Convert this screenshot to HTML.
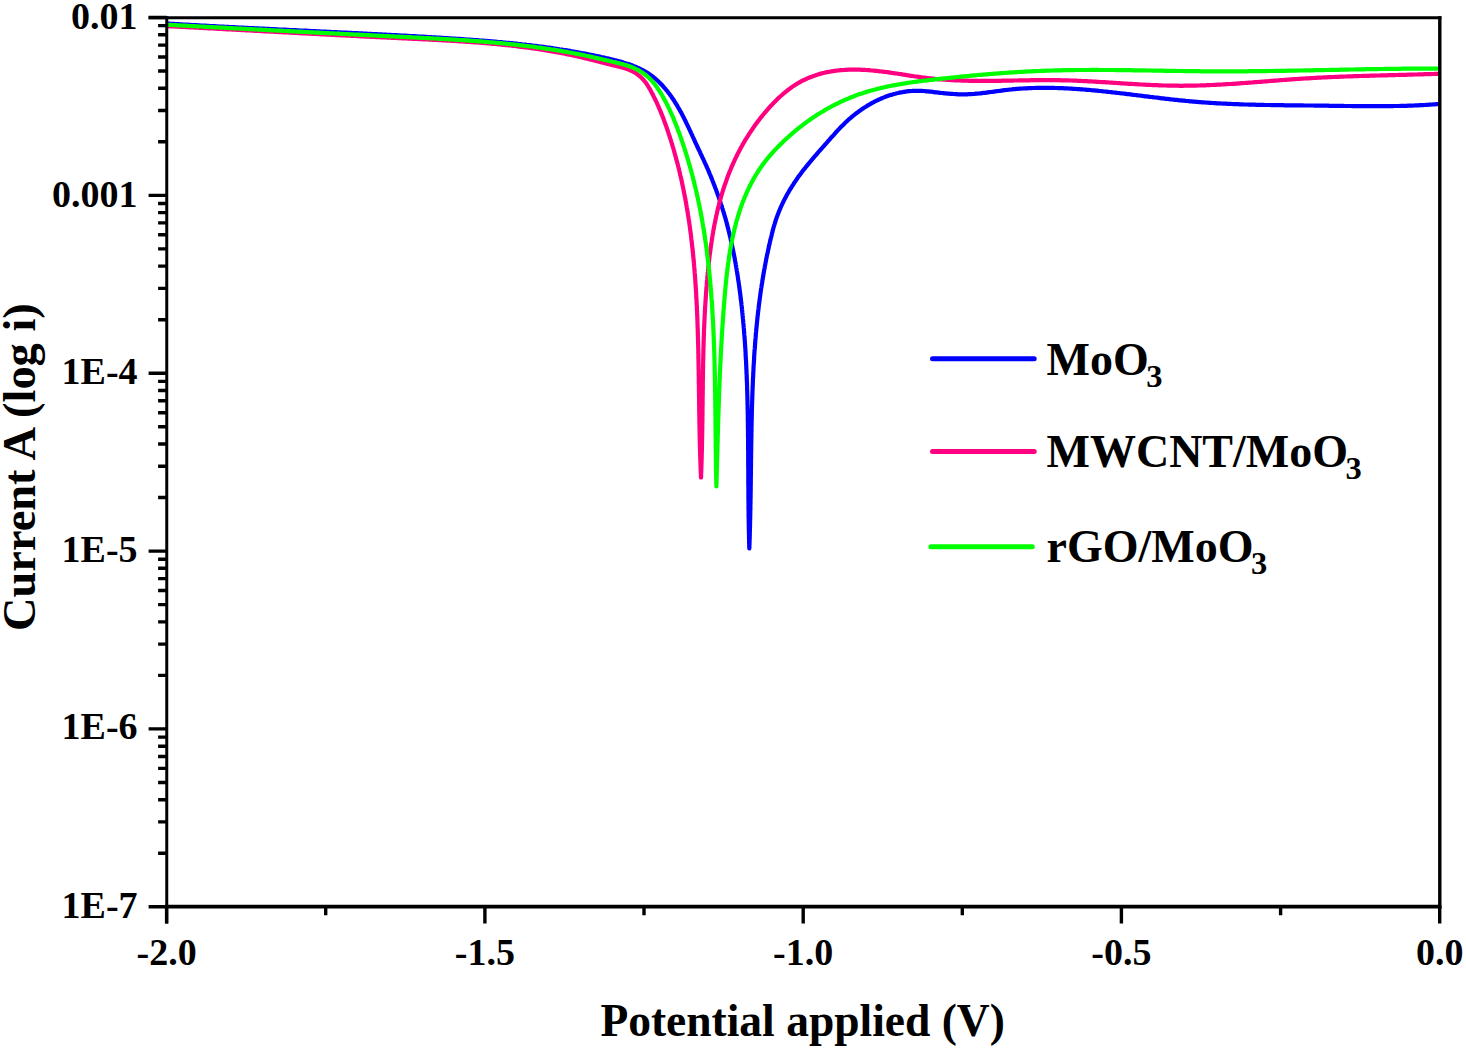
<!DOCTYPE html><html><head><meta charset="utf-8"><style>html,body{margin:0;padding:0;background:#fff;width:1466px;height:1049px;overflow:hidden}svg{display:block}text{font-family:"Liberation Serif",serif;font-weight:bold;fill:#000}</style></head><body>
<svg width="1466" height="1049" viewBox="0 0 1466 1049">
<defs><clipPath id="c"><rect x="166.6" y="15.5" width="1273.1000000000001" height="891.3"/></clipPath></defs>
<g fill="none" stroke-linejoin="round" stroke-linecap="round" clip-path="url(#c)">
<path d="M166.5,23.5L168.0,23.6L169.5,23.7L171.0,23.8L172.5,23.9L174.0,23.9L175.5,24.0L177.0,24.1L178.5,24.2L180.0,24.3L181.5,24.4L183.0,24.5L184.5,24.6L186.0,24.6L187.5,24.7L189.0,24.8L190.5,24.9L192.0,25.0L193.5,25.1L195.0,25.2L196.5,25.2L198.0,25.3L199.5,25.4L201.0,25.5L202.5,25.6L204.0,25.6L205.5,25.7L207.0,25.8L208.5,25.9L210.0,26.0L211.5,26.1L213.0,26.1L214.5,26.2L216.0,26.3L217.5,26.4L219.0,26.5L220.5,26.5L222.0,26.6L223.5,26.7L225.0,26.8L226.5,26.8L228.0,26.9L229.5,27.0L231.0,27.1L232.6,27.2L234.1,27.2L235.6,27.3L237.1,27.4L238.6,27.5L240.1,27.5L241.6,27.6L243.1,27.7L244.6,27.8L246.1,27.8L247.6,27.9L249.1,28.0L250.6,28.1L252.1,28.1L253.6,28.2L255.1,28.3L256.6,28.4L258.1,28.4L259.6,28.5L261.1,28.6L262.6,28.7L264.1,28.7L265.6,28.8L267.1,28.9L268.6,28.9L270.1,29.0L271.6,29.1L273.1,29.2L274.6,29.2L276.2,29.3L277.7,29.4L279.2,29.5L280.7,29.5L282.2,29.6L283.7,29.7L285.2,29.7L286.7,29.8L288.2,29.9L289.7,30.0L291.2,30.0L292.7,30.1L294.2,30.2L295.7,30.2L297.2,30.3L298.7,30.4L300.2,30.5L301.7,30.5L303.2,30.6L304.7,30.7L306.2,30.7L307.7,30.8L309.2,30.9L310.8,31.0L312.3,31.0L313.8,31.1L315.3,31.2L316.8,31.3L318.3,31.3L319.8,31.4L321.3,31.5L322.8,31.5L324.3,31.6L325.8,31.7L327.3,31.8L328.8,31.8L330.3,31.9L331.8,32.0L333.3,32.0L334.8,32.1L336.3,32.2L337.8,32.3L339.3,32.3L340.8,32.4L342.3,32.5L343.8,32.6L345.3,32.6L346.9,32.7L348.4,32.8L349.9,32.9L351.4,32.9L352.9,33.0L354.4,33.1L355.9,33.2L357.4,33.2L358.9,33.3L360.4,33.4L361.9,33.4L363.4,33.5L364.9,33.6L366.4,33.7L367.9,33.8L369.4,33.8L370.9,33.9L372.4,34.0L373.9,34.1L375.4,34.1L376.9,34.2L378.4,34.3L379.9,34.4L381.4,34.4L382.9,34.5L384.4,34.6L385.9,34.7L387.4,34.8L388.9,34.8L390.4,34.9L391.9,35.0L393.4,35.1L394.9,35.2L396.5,35.2L398.0,35.3L399.5,35.4L401.0,35.5L402.5,35.6L404.0,35.6L405.5,35.7L407.0,35.8L408.5,35.9L410.0,36.0L411.5,36.1L413.0,36.1L414.5,36.2L416.0,36.3L417.5,36.4L419.0,36.5L420.5,36.6L422.0,36.7L423.5,36.7L425.0,36.8L426.5,36.9L428.0,37.0L429.5,37.1L431.0,37.2L432.5,37.3L434.0,37.4L435.5,37.4L437.0,37.5L438.5,37.6L440.0,37.7L441.5,37.8L443.0,37.9L444.5,38.0L446.0,38.1L447.5,38.2L449.0,38.3L450.5,38.4L452.0,38.5L453.5,38.6L455.0,38.7L456.5,38.8L458.0,38.8L459.5,38.9L461.0,39.1L462.5,39.2L464.0,39.3L465.4,39.4L466.9,39.5L468.4,39.6L469.9,39.7L471.4,39.8L472.9,39.9L474.4,40.0L475.9,40.1L477.4,40.2L478.9,40.3L480.4,40.5L481.9,40.6L483.4,40.7L484.9,40.8L486.4,40.9L487.9,41.1L489.4,41.2L490.9,41.3L492.4,41.4L493.9,41.6L495.4,41.7L496.9,41.8L498.4,42.0L499.9,42.1L501.4,42.2L502.9,42.4L504.3,42.5L505.8,42.7L507.3,42.8L508.8,42.9L510.3,43.1L511.8,43.2L513.3,43.4L514.8,43.6L516.3,43.7L517.8,43.9L519.3,44.0L520.8,44.2L522.3,44.4L523.8,44.5L525.3,44.7L526.8,44.9L528.2,45.0L529.7,45.2L531.2,45.4L532.7,45.6L534.2,45.8L535.7,45.9L537.2,46.1L538.7,46.3L540.2,46.5L541.7,46.7L543.2,46.9L544.7,47.1L546.1,47.3L547.6,47.5L549.1,47.7L550.6,47.9L552.1,48.1L553.6,48.4L555.1,48.6L556.6,48.8L558.1,49.0L559.6,49.3L561.1,49.5L562.5,49.7L564.0,50.0L565.5,50.2L567.0,50.4L568.5,50.7L570.0,50.9L571.5,51.2L573.0,51.5L574.5,51.7L575.9,52.0L577.4,52.2L578.9,52.5L580.4,52.8L581.9,53.1L583.4,53.3L584.9,53.6L586.4,53.9L587.9,54.2L589.3,54.5L590.8,54.8L592.3,55.1L593.8,55.4L595.3,55.7L596.8,56.0L598.3,56.3L599.8,56.6L601.2,57.0L602.7,57.3L604.2,57.6L605.7,58.0L607.2,58.3L608.7,58.6L610.2,59.0L611.6,59.3L613.1,59.7L614.6,60.1L616.1,60.4L617.5,60.8L619.0,61.2L620.5,61.6L621.9,62.0L623.4,62.5L624.8,62.9L626.3,63.4L627.7,63.8L629.1,64.3L630.5,64.8L631.9,65.3L633.3,65.9L634.7,66.4L636.1,67.0L637.4,67.6L638.8,68.2L640.1,68.8L641.4,69.5L642.7,70.2L644.0,70.9L645.3,71.6L646.5,72.3L647.8,73.1L649.0,73.9L650.2,74.8L651.4,75.6L652.6,76.5L653.7,77.4L654.9,78.3L656.0,79.3L657.1,80.3L658.2,81.3L659.3,82.3L660.3,83.4L661.4,84.4L662.4,85.5L663.4,86.6L664.4,87.8L665.4,88.9L666.3,90.1L667.3,91.2L668.2,92.4L669.1,93.6L670.0,94.8L670.9,96.1L671.8,97.3L672.6,98.5L673.5,99.8L674.3,101.0L675.1,102.3L675.9,103.6L676.7,104.9L677.5,106.2L678.2,107.5L679.0,108.8L679.7,110.1L680.4,111.4L681.2,112.7L681.9,114.1L682.6,115.4L683.3,116.8L684.0,118.1L684.6,119.4L685.3,120.8L686.0,122.2L686.6,123.5L687.3,124.9L687.9,126.3L688.6,127.6L689.2,129.0L689.9,130.4L690.5,131.7L691.1,133.1L691.8,134.5L692.4,135.9L693.0,137.2L693.7,138.6L694.3,140.0L694.9,141.3L695.5,142.7L696.2,144.1L696.8,145.4L697.4,146.8L698.1,148.2L698.7,149.5L699.4,150.9L700.0,152.2L700.6,153.6L701.3,155.0L701.9,156.3L702.5,157.7L703.2,159.0L703.8,160.4L704.4,161.7L705.0,163.1L705.7,164.5L706.3,165.8L706.9,167.2L707.5,168.6L708.1,169.9L708.7,171.3L709.2,172.7L709.8,174.1L710.4,175.4L711.0,176.8L711.5,178.2L712.1,179.6L712.6,181.0L713.2,182.4L713.7,183.8L714.3,185.2L714.8,186.6L715.3,188.0L715.9,189.4L716.4,190.8L716.9,192.2L717.4,193.6L717.9,195.0L718.4,196.4L718.9,197.9L719.4,199.3L719.9,200.7L720.4,202.1L720.8,203.6L721.3,205.0L721.8,206.4L722.2,207.8L722.7,209.3L723.1,210.7L723.6,212.1L724.0,213.6L724.4,215.0L724.8,216.5L725.3,217.9L725.7,219.4L726.1,220.8L726.5,222.3L726.9,223.7L727.2,225.2L727.6,226.6L728.0,228.1L728.4,229.5L728.7,231.0L729.1,232.4L729.4,233.9L729.8,235.4L730.1,236.8L730.5,238.3L730.8,239.8L731.1,241.2L731.5,242.7L731.8,244.2L732.1,245.6L732.4,247.1L732.7,248.6L733.0,250.0L733.3,251.5L733.6,253.0L733.9,254.5L734.2,255.9L734.5,257.4L734.8,258.9L735.0,260.4L735.3,261.9L735.6,263.4L735.8,264.8L736.1,266.3L736.3,267.8L736.6,269.3L736.8,270.8L737.1,272.3L737.3,273.7L737.5,275.2L737.8,276.7L738.0,278.2L738.2,279.7L738.4,281.2L738.7,282.7L738.9,284.2L739.1,285.6L739.3,287.1L739.5,288.6L739.7,290.1L739.9,291.6L740.1,293.1L740.3,294.6L740.5,296.1L740.6,297.6L740.8,299.1L741.0,300.6L741.2,302.0L741.4,303.5L741.5,305.0L741.7,306.5L741.9,308.0L742.0,309.5L742.2,311.0L742.3,312.5L742.5,314.0L742.6,315.5L742.8,317.0L742.9,318.5L743.1,320.0L743.2,321.5L743.3,323.0L743.5,324.5L743.6,326.0L743.7,327.5L743.9,329.0L744.0,330.5L744.1,332.0L744.2,333.5L744.3,335.0L744.5,336.5L744.6,338.0L744.7,339.4L744.8,340.9L744.9,342.4L745.0,343.9L745.1,345.4L745.2,346.9L745.3,348.4L745.4,349.9L745.5,351.4L745.6,352.9L745.6,354.5L745.7,356.0L745.8,357.5L745.9,359.0L746.0,360.5L746.1,362.0L746.1,363.5L746.2,365.0L746.3,366.5L746.3,368.0L746.4,369.5L746.5,371.0L746.5,372.5L746.6,374.0L746.7,375.5L746.7,377.0L746.8,378.5L746.8,380.0L746.9,381.5L747.0,383.0L747.0,384.5L747.1,386.0L747.1,387.5L747.1,389.0L747.2,390.5L747.2,392.0L747.3,393.5L747.3,395.0L747.4,396.5L747.4,398.0L747.4,399.6L747.5,401.1L747.5,402.6L747.5,404.1L747.6,405.6L747.6,407.1L747.6,408.6L747.7,410.1L747.7,411.6L747.7,413.1L747.8,414.6L747.8,416.1L747.8,417.6L747.8,419.1L747.8,420.6L747.9,422.1L747.9,423.6L747.9,425.1L747.9,426.7L747.9,428.2L748.0,429.7L748.0,431.2L748.0,432.7L748.0,434.2L748.0,435.7L748.0,437.2L748.1,438.7L748.1,440.2L748.1,441.7L748.1,443.2L748.1,444.7L748.1,446.2L748.1,447.7L748.1,449.3L748.2,450.8L748.2,452.3L748.2,453.8L748.2,455.3L748.2,456.8L748.2,458.3L748.2,459.8L748.2,461.3L748.2,462.8L748.2,464.3L748.2,465.8L748.2,467.3L748.3,468.8L748.3,470.3L748.3,471.8L748.3,473.4L748.3,474.9L748.3,476.4L748.3,477.9L748.3,479.4L748.3,480.9L748.3,482.4L748.3,483.9L748.3,485.4L748.4,486.9L748.4,488.4L748.4,489.9L748.4,491.4L748.4,492.9L748.4,494.4L748.4,495.9L748.4,497.4L748.4,498.9L748.5,500.4L748.5,501.9L748.5,503.5L748.5,505.0L748.5,506.5L748.5,508.0L748.5,509.5L748.6,511.0L748.6,512.5L748.6,514.0L748.6,515.5L748.6,517.0L748.7,518.5L748.7,520.0L748.7,521.5L748.7,523.0L748.8,524.5L748.8,526.0L748.8,527.5L748.8,529.0L748.9,530.5L748.9,532.0L748.9,533.5L749.0,535.0L749.0,536.5L749.0,538.0L749.1,539.5L749.1,541.0L749.1,542.5L749.2,544.0L749.2,545.5L749.3,547.0L749.3,548.5L749.3,548.5L749.4,547.0L749.4,545.5L749.5,544.0L749.5,542.5L749.6,541.0L749.6,539.5L749.7,538.0L749.7,536.5L749.8,535.0L749.8,533.5L749.8,532.0L749.9,530.5L749.9,529.1L750.0,527.6L750.0,526.1L750.0,524.6L750.1,523.1L750.1,521.6L750.1,520.1L750.2,518.6L750.2,517.1L750.2,515.6L750.3,514.1L750.3,512.6L750.3,511.1L750.4,509.6L750.4,508.1L750.4,506.5L750.4,505.0L750.5,503.5L750.5,502.0L750.5,500.5L750.5,499.0L750.6,497.5L750.6,496.0L750.6,494.5L750.6,493.0L750.7,491.5L750.7,490.0L750.7,488.5L750.7,487.0L750.7,485.5L750.8,484.0L750.8,482.5L750.8,481.0L750.8,479.5L750.8,478.0L750.8,476.5L750.9,475.0L750.9,473.5L750.9,472.0L750.9,470.4L750.9,468.9L751.0,467.4L751.0,465.9L751.0,464.4L751.0,462.9L751.0,461.4L751.0,459.9L751.1,458.4L751.1,456.9L751.1,455.4L751.1,453.9L751.1,452.4L751.2,450.9L751.2,449.3L751.2,447.8L751.2,446.3L751.2,444.8L751.3,443.3L751.3,441.8L751.3,440.3L751.3,438.8L751.4,437.3L751.4,435.8L751.4,434.3L751.4,432.8L751.5,431.3L751.5,429.8L751.5,428.2L751.5,426.7L751.6,425.2L751.6,423.7L751.6,422.2L751.7,420.7L751.7,419.2L751.7,417.7L751.8,416.2L751.8,414.7L751.8,413.2L751.9,411.7L751.9,410.2L751.9,408.7L752.0,407.1L752.0,405.6L752.1,404.1L752.1,402.6L752.2,401.1L752.2,399.6L752.3,398.1L752.3,396.6L752.4,395.1L752.4,393.6L752.5,392.1L752.5,390.6L752.6,389.1L752.6,387.6L752.7,386.1L752.8,384.6L752.8,383.1L752.9,381.6L752.9,380.0L753.0,378.5L753.1,377.0L753.2,375.5L753.2,374.0L753.3,372.5L753.4,371.0L753.5,369.5L753.5,368.0L753.6,366.5L753.7,365.0L753.8,363.5L753.9,362.0L754.0,360.5L754.1,359.0L754.1,357.5L754.2,356.0L754.3,354.5L754.4,353.0L754.5,351.5L754.6,350.0L754.8,348.5L754.9,347.0L755.0,345.5L755.1,344.0L755.2,342.5L755.3,341.0L755.4,339.5L755.6,338.0L755.7,336.5L755.8,335.0L755.9,333.5L756.1,332.0L756.2,330.5L756.3,329.1L756.5,327.6L756.6,326.1L756.8,324.6L756.9,323.1L757.1,321.6L757.2,320.1L757.4,318.6L757.5,317.1L757.7,315.6L757.9,314.1L758.0,312.6L758.2,311.1L758.4,309.6L758.6,308.2L758.7,306.7L758.9,305.2L759.1,303.7L759.3,302.2L759.5,300.7L759.7,299.2L759.9,297.7L760.1,296.3L760.3,294.8L760.5,293.3L760.7,291.8L760.9,290.3L761.1,288.8L761.4,287.3L761.6,285.9L761.8,284.4L762.1,282.9L762.3,281.4L762.5,279.9L762.8,278.5L763.0,277.0L763.3,275.5L763.5,274.0L763.8,272.5L764.0,271.1L764.3,269.6L764.6,268.1L764.8,266.6L765.1,265.2L765.4,263.7L765.7,262.2L766.0,260.7L766.2,259.3L766.5,257.8L766.8,256.3L767.1,254.8L767.5,253.4L767.8,251.9L768.1,250.4L768.4,249.0L768.7,247.5L769.0,246.0L769.4,244.6L769.7,243.1L770.0,241.6L770.4,240.2L770.7,238.7L771.1,237.2L771.5,235.8L771.8,234.3L772.2,232.8L772.6,231.4L772.9,229.9L773.3,228.5L773.7,227.0L774.1,225.6L774.6,224.1L775.0,222.7L775.5,221.3L775.9,219.8L776.4,218.4L776.9,217.0L777.4,215.6L777.9,214.2L778.5,212.8L779.0,211.4L779.6,210.0L780.2,208.6L780.8,207.2L781.4,205.9L782.0,204.5L782.7,203.1L783.3,201.8L784.0,200.4L784.7,199.1L785.4,197.8L786.1,196.4L786.8,195.1L787.5,193.8L788.3,192.5L789.0,191.2L789.8,189.9L790.6,188.6L791.4,187.3L792.2,186.0L793.0,184.8L793.8,183.5L794.6,182.3L795.5,181.0L796.3,179.8L797.2,178.5L798.0,177.3L798.9,176.1L799.8,174.9L800.7,173.7L801.6,172.5L802.5,171.3L803.4,170.1L804.4,168.9L805.3,167.8L806.2,166.6L807.2,165.4L808.1,164.3L809.1,163.1L810.0,162.0L811.0,160.8L812.0,159.7L812.9,158.5L813.9,157.4L814.9,156.2L815.9,155.1L816.9,154.0L817.8,152.8L818.8,151.7L819.8,150.6L820.8,149.5L821.8,148.3L822.8,147.2L823.8,146.1L824.8,144.9L825.8,143.8L826.8,142.7L827.8,141.5L828.8,140.4L829.8,139.3L830.7,138.1L831.7,137.0L832.8,135.9L833.8,134.8L834.8,133.6L835.8,132.5L836.8,131.4L837.8,130.3L838.9,129.2L839.9,128.1L840.9,127.1L842.0,126.0L843.1,124.9L844.1,123.9L845.2,122.8L846.3,121.8L847.4,120.7L848.5,119.7L849.7,118.7L850.8,117.7L852.0,116.8L853.1,115.8L854.3,114.9L855.5,113.9L856.7,113.0L857.9,112.1L859.1,111.2L860.4,110.3L861.6,109.4L862.8,108.6L864.1,107.8L865.4,107.0L866.6,106.2L867.9,105.4L869.2,104.6L870.5,103.9L871.8,103.1L873.2,102.4L874.5,101.7L875.8,101.0L877.2,100.4L878.5,99.7L879.9,99.1L881.3,98.5L882.7,97.9L884.0,97.4L885.4,96.8L886.8,96.3L888.2,95.8L889.6,95.3L891.1,94.9L892.5,94.5L893.9,94.0L895.3,93.7L896.8,93.3L898.2,93.0L899.7,92.6L901.1,92.3L902.6,92.1L904.1,91.8L905.5,91.6L907.0,91.4L908.5,91.2L910.0,91.1L911.5,91.0L912.9,90.9L914.4,90.8L915.9,90.8L917.4,90.8L918.9,90.8L920.4,90.9L921.9,90.9L923.5,91.0L925.0,91.1L926.5,91.3L928.0,91.4L929.5,91.6L931.0,91.7L932.5,91.9L934.0,92.1L935.6,92.3L937.1,92.4L938.6,92.6L940.1,92.8L941.6,93.0L943.1,93.1L944.6,93.3L946.1,93.4L947.6,93.6L949.1,93.7L950.6,93.8L952.1,93.9L953.6,94.0L955.1,94.1L956.6,94.2L958.0,94.3L959.5,94.3L961.0,94.3L962.5,94.3L964.0,94.3L965.5,94.3L967.0,94.3L968.5,94.2L970.0,94.2L971.5,94.1L973.0,94.0L974.5,93.9L976.0,93.7L977.5,93.6L979.0,93.5L980.5,93.3L982.0,93.1L983.5,92.9L985.0,92.8L986.5,92.6L988.0,92.4L989.5,92.2L991.0,92.0L992.5,91.8L994.0,91.6L995.5,91.4L997.0,91.2L998.5,91.0L1000.0,90.8L1001.5,90.6L1003.0,90.4L1004.5,90.2L1006.0,90.0L1007.5,89.8L1009.0,89.7L1010.5,89.5L1012.0,89.4L1013.5,89.2L1015.0,89.1L1016.5,88.9L1018.0,88.8L1019.5,88.7L1021.0,88.6L1022.5,88.5L1024.0,88.4L1025.5,88.3L1027.0,88.3L1028.4,88.2L1029.9,88.1L1031.4,88.1L1032.9,88.0L1034.4,88.0L1035.9,87.9L1037.4,87.9L1038.9,87.9L1040.4,87.9L1041.9,87.8L1043.4,87.8L1044.9,87.8L1046.4,87.8L1047.9,87.8L1049.4,87.9L1050.9,87.9L1052.4,87.9L1053.9,87.9L1055.4,88.0L1056.9,88.0L1058.4,88.1L1059.9,88.1L1061.4,88.2L1062.9,88.2L1064.4,88.3L1065.9,88.4L1067.4,88.4L1068.9,88.5L1070.4,88.6L1071.9,88.7L1073.4,88.8L1074.9,88.9L1076.4,89.0L1077.9,89.1L1079.4,89.2L1080.9,89.3L1082.4,89.4L1083.9,89.5L1085.4,89.6L1086.9,89.8L1088.4,89.9L1089.9,90.0L1091.4,90.2L1092.8,90.3L1094.3,90.4L1095.8,90.6L1097.3,90.7L1098.8,90.9L1100.3,91.0L1101.8,91.2L1103.3,91.3L1104.8,91.5L1106.3,91.6L1107.8,91.8L1109.3,92.0L1110.8,92.1L1112.3,92.3L1113.8,92.5L1115.3,92.6L1116.8,92.8L1118.3,93.0L1119.8,93.2L1121.3,93.3L1122.8,93.5L1124.3,93.7L1125.8,93.9L1127.3,94.1L1128.8,94.2L1130.3,94.4L1131.8,94.6L1133.3,94.8L1134.8,95.0L1136.3,95.1L1137.7,95.3L1139.2,95.5L1140.7,95.7L1142.2,95.9L1143.7,96.1L1145.2,96.3L1146.7,96.4L1148.2,96.6L1149.7,96.8L1151.2,97.0L1152.7,97.2L1154.2,97.4L1155.7,97.5L1157.2,97.7L1158.7,97.9L1160.2,98.1L1161.7,98.3L1163.2,98.4L1164.7,98.6L1166.2,98.8L1167.7,98.9L1169.2,99.1L1170.7,99.3L1172.2,99.5L1173.7,99.6L1175.2,99.8L1176.7,99.9L1178.2,100.1L1179.7,100.3L1181.2,100.4L1182.7,100.6L1184.2,100.7L1185.7,100.9L1187.2,101.0L1188.6,101.1L1190.1,101.3L1191.6,101.4L1193.1,101.6L1194.6,101.7L1196.1,101.8L1197.6,101.9L1199.1,102.1L1200.6,102.2L1202.1,102.3L1203.6,102.4L1205.1,102.5L1206.6,102.6L1208.1,102.7L1209.6,102.8L1211.1,102.9L1212.6,103.0L1214.1,103.1L1215.6,103.2L1217.1,103.3L1218.6,103.4L1220.1,103.4L1221.6,103.5L1223.1,103.6L1224.6,103.7L1226.1,103.7L1227.6,103.8L1229.1,103.9L1230.6,103.9L1232.1,104.0L1233.6,104.1L1235.1,104.1L1236.6,104.2L1238.1,104.2L1239.6,104.3L1241.1,104.4L1242.6,104.4L1244.1,104.5L1245.6,104.5L1247.1,104.5L1248.6,104.6L1250.1,104.6L1251.6,104.7L1253.1,104.7L1254.6,104.7L1256.1,104.8L1257.6,104.8L1259.1,104.8L1260.6,104.9L1262.1,104.9L1263.6,104.9L1265.1,105.0L1266.6,105.0L1268.1,105.0L1269.6,105.0L1271.1,105.1L1272.6,105.1L1274.1,105.1L1275.6,105.1L1277.1,105.2L1278.6,105.2L1280.1,105.2L1281.6,105.2L1283.1,105.2L1284.6,105.3L1286.1,105.3L1287.6,105.3L1289.1,105.3L1290.6,105.3L1292.1,105.3L1293.6,105.4L1295.1,105.4L1296.6,105.4L1298.1,105.4L1299.7,105.4L1301.2,105.4L1302.7,105.4L1304.2,105.5L1305.7,105.5L1307.2,105.5L1308.7,105.5L1310.2,105.5L1311.7,105.5L1313.2,105.5L1314.7,105.6L1316.2,105.6L1317.7,105.6L1319.2,105.6L1320.7,105.6L1322.2,105.7L1323.7,105.7L1325.2,105.7L1326.7,105.7L1328.2,105.7L1329.7,105.8L1331.2,105.8L1332.7,105.8L1334.2,105.8L1335.7,105.8L1337.3,105.9L1338.8,105.9L1340.3,105.9L1341.8,105.9L1343.3,105.9L1344.8,106.0L1346.3,106.0L1347.8,106.0L1349.3,106.0L1350.8,106.0L1352.3,106.1L1353.8,106.1L1355.3,106.1L1356.8,106.1L1358.3,106.1L1359.8,106.1L1361.3,106.1L1362.8,106.2L1364.4,106.2L1365.9,106.2L1367.4,106.2L1368.9,106.2L1370.4,106.2L1371.9,106.2L1373.4,106.2L1374.9,106.2L1376.4,106.2L1377.9,106.2L1379.4,106.2L1380.9,106.2L1382.4,106.2L1383.9,106.2L1385.4,106.2L1386.9,106.1L1388.4,106.1L1389.9,106.1L1391.4,106.1L1392.9,106.1L1394.4,106.0L1396.0,106.0L1397.5,106.0L1399.0,106.0L1400.5,105.9L1402.0,105.9L1403.5,105.8L1405.0,105.8L1406.5,105.8L1408.0,105.7L1409.5,105.7L1411.0,105.6L1412.5,105.6L1414.0,105.5L1415.5,105.4L1417.0,105.4L1418.5,105.3L1420.0,105.2L1421.5,105.2L1423.0,105.1L1424.5,105.0L1426.0,104.9L1427.5,104.8L1429.0,104.7L1430.5,104.6L1432.0,104.5L1433.5,104.4L1435.0,104.3L1436.5,104.2L1438.0,104.1" stroke="#0000ff" stroke-width="4.2"/>
<path d="M166.5,26.1L168.0,26.2L169.5,26.3L171.0,26.3L172.5,26.4L174.0,26.5L175.5,26.6L177.0,26.6L178.5,26.7L180.0,26.8L181.5,26.9L183.0,27.0L184.5,27.0L186.1,27.1L187.6,27.2L189.1,27.3L190.6,27.3L192.1,27.4L193.6,27.5L195.1,27.6L196.6,27.7L198.1,27.7L199.6,27.8L201.1,27.9L202.6,28.0L204.1,28.1L205.6,28.1L207.1,28.2L208.6,28.3L210.1,28.4L211.6,28.5L213.1,28.5L214.6,28.6L216.1,28.7L217.6,28.8L219.1,28.9L220.6,28.9L222.1,29.0L223.6,29.1L225.1,29.2L226.6,29.3L228.1,29.3L229.6,29.4L231.1,29.5L232.6,29.6L234.1,29.7L235.6,29.7L237.1,29.8L238.6,29.9L240.1,30.0L241.6,30.1L243.1,30.1L244.6,30.2L246.1,30.3L247.6,30.4L249.1,30.5L250.6,30.5L252.1,30.6L253.6,30.7L255.1,30.8L256.6,30.9L258.1,30.9L259.6,31.0L261.1,31.1L262.6,31.2L264.1,31.3L265.6,31.3L267.1,31.4L268.6,31.5L270.1,31.6L271.6,31.7L273.1,31.7L274.6,31.8L276.1,31.9L277.6,32.0L279.1,32.1L280.6,32.1L282.1,32.2L283.6,32.3L285.1,32.4L286.6,32.5L288.1,32.5L289.6,32.6L291.1,32.7L292.6,32.8L294.1,32.9L295.6,32.9L297.1,33.0L298.6,33.1L300.1,33.2L301.6,33.3L303.1,33.3L304.6,33.4L306.1,33.5L307.6,33.6L309.1,33.6L310.6,33.7L312.1,33.8L313.6,33.9L315.1,34.0L316.6,34.0L318.1,34.1L319.6,34.2L321.1,34.3L322.6,34.4L324.1,34.4L325.6,34.5L327.1,34.6L328.6,34.7L330.1,34.7L331.6,34.8L333.1,34.9L334.6,35.0L336.1,35.1L337.6,35.1L339.1,35.2L340.6,35.3L342.1,35.4L343.6,35.4L345.1,35.5L346.6,35.6L348.1,35.7L349.6,35.7L351.1,35.8L352.6,35.9L354.1,36.0L355.6,36.0L357.1,36.1L358.6,36.2L360.1,36.3L361.6,36.3L363.1,36.4L364.6,36.5L366.1,36.6L367.6,36.6L369.1,36.7L370.6,36.8L372.1,36.9L373.6,36.9L375.1,37.0L376.6,37.1L378.1,37.2L379.6,37.2L381.1,37.3L382.6,37.4L384.1,37.5L385.6,37.5L387.2,37.6L388.7,37.7L390.2,37.7L391.7,37.8L393.2,37.9L394.7,38.0L396.2,38.0L397.7,38.1L399.2,38.2L400.7,38.2L402.2,38.3L403.7,38.4L405.2,38.5L406.7,38.5L408.2,38.6L409.7,38.7L411.2,38.7L412.7,38.8L414.2,38.9L415.7,39.0L417.2,39.0L418.7,39.1L420.3,39.2L421.8,39.2L423.3,39.3L424.8,39.4L426.3,39.5L427.8,39.5L429.3,39.6L430.8,39.7L432.3,39.8L433.8,39.8L435.3,39.9L436.8,40.0L438.3,40.1L439.8,40.1L441.3,40.2L442.8,40.3L444.3,40.4L445.8,40.5L447.3,40.6L448.8,40.6L450.4,40.7L451.9,40.8L453.4,40.9L454.9,41.0L456.4,41.1L457.9,41.2L459.4,41.3L460.9,41.4L462.4,41.5L463.9,41.6L465.4,41.7L466.9,41.8L468.4,41.9L469.9,42.0L471.4,42.1L472.9,42.2L474.4,42.3L475.9,42.4L477.4,42.5L478.9,42.6L480.4,42.7L481.9,42.9L483.4,43.0L484.9,43.1L486.4,43.2L487.9,43.4L489.4,43.5L490.9,43.6L492.4,43.8L493.9,43.9L495.4,44.0L496.9,44.2L498.4,44.3L499.9,44.5L501.4,44.6L502.9,44.8L504.3,44.9L505.8,45.1L507.3,45.2L508.8,45.4L510.3,45.5L511.8,45.7L513.3,45.9L514.8,46.0L516.3,46.2L517.8,46.4L519.3,46.6L520.7,46.8L522.2,46.9L523.7,47.1L525.2,47.3L526.7,47.5L528.2,47.7L529.7,47.9L531.2,48.1L532.6,48.3L534.1,48.5L535.6,48.8L537.1,49.0L538.6,49.2L540.0,49.4L541.5,49.7L543.0,49.9L544.5,50.1L546.0,50.4L547.4,50.6L548.9,50.9L550.4,51.1L551.9,51.4L553.3,51.6L554.8,51.9L556.3,52.1L557.8,52.4L559.2,52.7L560.7,53.0L562.2,53.3L563.7,53.5L565.1,53.8L566.6,54.1L568.1,54.4L569.5,54.7L571.0,55.0L572.5,55.3L573.9,55.7L575.4,56.0L576.9,56.3L578.3,56.6L579.8,57.0L581.2,57.3L582.7,57.7L584.2,58.0L585.6,58.4L587.1,58.7L588.5,59.1L590.0,59.4L591.5,59.8L592.9,60.2L594.4,60.5L595.8,60.9L597.3,61.3L598.8,61.6L600.3,62.0L601.7,62.4L603.2,62.8L604.7,63.1L606.2,63.5L607.6,63.9L609.1,64.3L610.6,64.6L612.1,65.0L613.6,65.4L615.1,65.8L616.6,66.1L618.2,66.5L619.7,66.9L621.2,67.3L622.7,67.7L624.1,68.1L625.6,68.6L627.0,69.1L628.5,69.6L629.9,70.2L631.2,70.8L632.6,71.4L633.9,72.1L635.1,72.8L636.3,73.6L637.5,74.5L638.7,75.4L639.8,76.3L640.9,77.2L641.9,78.2L643.0,79.3L643.9,80.4L644.8,81.5L645.7,82.6L646.6,83.8L647.4,85.1L648.2,86.3L648.9,87.6L649.7,88.8L650.4,90.1L651.1,91.4L651.8,92.7L652.5,94.1L653.2,95.4L653.8,96.7L654.5,98.1L655.2,99.4L655.8,100.8L656.5,102.1L657.1,103.5L657.7,104.9L658.3,106.2L658.9,107.6L659.5,109.0L660.1,110.4L660.7,111.8L661.2,113.2L661.8,114.6L662.4,116.0L662.9,117.4L663.5,118.9L664.0,120.3L664.5,121.7L665.0,123.1L665.6,124.6L666.1,126.0L666.6,127.4L667.1,128.9L667.6,130.3L668.0,131.7L668.5,133.2L669.0,134.6L669.5,136.0L669.9,137.5L670.4,138.9L670.9,140.4L671.3,141.8L671.8,143.3L672.2,144.7L672.6,146.1L673.1,147.6L673.5,149.0L673.9,150.5L674.3,151.9L674.7,153.4L675.1,154.8L675.5,156.3L675.9,157.7L676.3,159.2L676.7,160.6L677.1,162.1L677.5,163.6L677.9,165.0L678.2,166.5L678.6,167.9L679.0,169.4L679.3,170.8L679.7,172.3L680.0,173.8L680.3,175.2L680.7,176.7L681.0,178.2L681.4,179.6L681.7,181.1L682.0,182.5L682.3,184.0L682.6,185.5L682.9,186.9L683.2,188.4L683.5,189.9L683.8,191.4L684.1,192.8L684.4,194.3L684.7,195.8L685.0,197.2L685.3,198.7L685.5,200.2L685.8,201.7L686.1,203.1L686.3,204.6L686.6,206.1L686.8,207.6L687.1,209.0L687.3,210.5L687.6,212.0L687.8,213.5L688.0,214.9L688.3,216.4L688.5,217.9L688.7,219.4L689.0,220.9L689.2,222.4L689.4,223.8L689.6,225.3L689.8,226.8L690.0,228.3L690.2,229.8L690.4,231.3L690.6,232.7L690.8,234.2L691.0,235.7L691.2,237.2L691.3,238.7L691.5,240.2L691.7,241.7L691.9,243.2L692.0,244.6L692.2,246.1L692.4,247.6L692.5,249.1L692.7,250.6L692.8,252.1L693.0,253.6L693.1,255.1L693.3,256.6L693.4,258.1L693.6,259.6L693.7,261.1L693.9,262.5L694.0,264.0L694.1,265.5L694.2,267.0L694.4,268.5L694.5,270.0L694.6,271.5L694.7,273.0L694.9,274.5L695.0,276.0L695.1,277.5L695.2,279.0L695.3,280.5L695.4,282.0L695.5,283.5L695.6,285.0L695.7,286.5L695.8,288.0L695.9,289.5L696.0,291.0L696.1,292.5L696.2,294.0L696.2,295.5L696.3,297.0L696.4,298.5L696.5,300.0L696.6,301.5L696.6,303.0L696.7,304.5L696.8,306.0L696.9,307.5L696.9,309.0L697.0,310.5L697.1,312.1L697.1,313.6L697.2,315.1L697.3,316.6L697.3,318.1L697.4,319.6L697.4,321.1L697.5,322.6L697.5,324.1L697.6,325.6L697.6,327.1L697.7,328.6L697.7,330.1L697.8,331.6L697.8,333.1L697.9,334.6L697.9,336.1L698.0,337.7L698.0,339.2L698.0,340.7L698.1,342.2L698.1,343.7L698.2,345.2L698.2,346.7L698.2,348.2L698.3,349.7L698.3,351.2L698.3,352.7L698.4,354.2L698.4,355.7L698.4,357.3L698.4,358.8L698.5,360.3L698.5,361.8L698.5,363.3L698.6,364.8L698.6,366.3L698.6,367.8L698.6,369.3L698.7,370.8L698.7,372.3L698.7,373.8L698.7,375.3L698.8,376.9L698.8,378.4L698.8,379.9L698.8,381.4L698.8,382.9L698.9,384.4L698.9,385.9L698.9,387.4L698.9,388.9L698.9,390.4L699.0,391.9L699.0,393.4L699.0,394.9L699.0,396.5L699.1,398.0L699.1,399.5L699.1,401.0L699.1,402.5L699.1,404.0L699.2,405.5L699.2,407.0L699.2,408.5L699.2,410.0L699.2,411.5L699.3,413.0L699.3,414.5L699.3,416.0L699.3,417.5L699.4,419.0L699.4,420.5L699.4,422.0L699.4,423.6L699.5,425.1L699.5,426.6L699.5,428.1L699.6,429.6L699.6,431.1L699.6,432.6L699.6,434.1L699.7,435.6L699.7,437.1L699.7,438.6L699.8,440.1L699.8,441.6L699.8,443.1L699.9,444.6L699.9,446.1L700.0,447.6L700.0,449.1L700.0,450.6L700.1,452.1L700.1,453.6L700.2,455.1L700.2,456.6L700.3,458.1L700.3,459.6L700.4,461.1L700.4,462.6L700.5,464.1L700.5,465.5L700.6,467.0L700.6,468.5L700.7,470.0L700.7,471.5L700.8,473.0L700.9,474.5L700.9,476.0L701.0,477.5L701.0,477.5L701.1,476.0L701.1,474.5L701.2,473.0L701.2,471.5L701.3,470.0L701.3,468.5L701.4,467.0L701.4,465.5L701.5,464.0L701.5,462.5L701.6,461.0L701.6,459.5L701.7,458.0L701.7,456.5L701.7,455.0L701.8,453.5L701.8,452.0L701.9,450.5L701.9,448.9L701.9,447.4L702.0,445.9L702.0,444.4L702.0,442.9L702.0,441.4L702.1,439.9L702.1,438.4L702.1,436.9L702.2,435.4L702.2,433.9L702.2,432.4L702.2,430.9L702.3,429.4L702.3,427.9L702.3,426.4L702.3,424.9L702.3,423.4L702.4,421.9L702.4,420.4L702.4,418.9L702.4,417.4L702.4,415.9L702.5,414.4L702.5,412.9L702.5,411.4L702.5,409.9L702.5,408.4L702.5,406.9L702.6,405.4L702.6,403.8L702.6,402.3L702.6,400.8L702.6,399.3L702.6,397.8L702.7,396.3L702.7,394.8L702.7,393.3L702.7,391.8L702.7,390.3L702.8,388.8L702.8,387.3L702.8,385.8L702.8,384.3L702.8,382.8L702.8,381.3L702.9,379.8L702.9,378.3L702.9,376.8L702.9,375.3L703.0,373.8L703.0,372.3L703.0,370.8L703.0,369.3L703.1,367.8L703.1,366.3L703.1,364.8L703.1,363.3L703.2,361.8L703.2,360.3L703.2,358.8L703.3,357.2L703.3,355.7L703.3,354.2L703.4,352.7L703.4,351.2L703.4,349.7L703.5,348.2L703.5,346.7L703.6,345.2L703.6,343.7L703.6,342.2L703.7,340.7L703.7,339.2L703.8,337.7L703.8,336.2L703.9,334.7L703.9,333.2L704.0,331.7L704.0,330.2L704.1,328.7L704.2,327.2L704.2,325.7L704.3,324.2L704.4,322.7L704.4,321.2L704.5,319.7L704.6,318.2L704.6,316.7L704.7,315.2L704.8,313.7L704.9,312.2L704.9,310.7L705.0,309.2L705.1,307.7L705.2,306.2L705.3,304.7L705.4,303.2L705.5,301.7L705.6,300.2L705.7,298.7L705.8,297.2L705.9,295.7L706.0,294.2L706.1,292.7L706.2,291.2L706.3,289.7L706.4,288.2L706.5,286.7L706.7,285.2L706.8,283.7L706.9,282.2L707.0,280.7L707.2,279.2L707.3,277.7L707.4,276.2L707.6,274.7L707.7,273.2L707.9,271.7L708.0,270.2L708.2,268.7L708.3,267.2L708.5,265.7L708.7,264.2L708.8,262.7L709.0,261.2L709.2,259.7L709.3,258.2L709.5,256.7L709.7,255.2L709.9,253.8L710.1,252.3L710.3,250.8L710.5,249.3L710.7,247.8L710.9,246.3L711.1,244.8L711.3,243.3L711.6,241.8L711.8,240.3L712.0,238.8L712.2,237.4L712.5,235.9L712.7,234.4L713.0,232.9L713.2,231.4L713.5,229.9L713.8,228.5L714.0,227.0L714.3,225.5L714.6,224.0L714.9,222.6L715.2,221.1L715.5,219.6L715.8,218.1L716.1,216.7L716.4,215.2L716.8,213.7L717.1,212.3L717.4,210.8L717.8,209.4L718.1,207.9L718.5,206.5L718.9,205.0L719.2,203.5L719.6,202.1L720.0,200.7L720.4,199.2L720.8,197.8L721.2,196.3L721.6,194.9L722.1,193.5L722.5,192.0L722.9,190.6L723.4,189.2L723.8,187.7L724.3,186.3L724.8,184.9L725.3,183.5L725.8,182.1L726.3,180.7L726.8,179.2L727.3,177.8L727.8,176.4L728.3,175.0L728.9,173.6L729.4,172.2L730.0,170.9L730.6,169.5L731.1,168.1L731.7,166.7L732.3,165.3L732.9,164.0L733.5,162.6L734.2,161.2L734.8,159.9L735.4,158.5L736.1,157.1L736.8,155.8L737.4,154.4L738.1,153.1L738.8,151.8L739.5,150.4L740.2,149.1L740.9,147.8L741.6,146.5L742.4,145.1L743.1,143.8L743.9,142.5L744.6,141.2L745.4,139.9L746.2,138.6L747.0,137.4L747.8,136.1L748.6,134.8L749.4,133.5L750.2,132.3L751.1,131.0L751.9,129.8L752.8,128.5L753.6,127.3L754.5,126.0L755.4,124.8L756.2,123.6L757.1,122.4L758.1,121.2L759.0,120.0L759.9,118.8L760.8,117.6L761.8,116.4L762.7,115.2L763.7,114.1L764.6,112.9L765.6,111.8L766.6,110.6L767.6,109.5L768.6,108.4L769.6,107.2L770.6,106.1L771.7,105.0L772.7,103.9L773.8,102.8L774.8,101.8L775.9,100.7L777.0,99.6L778.0,98.6L779.1,97.5L780.2,96.5L781.4,95.5L782.5,94.5L783.6,93.5L784.8,92.6L785.9,91.6L787.1,90.7L788.3,89.8L789.5,88.9L790.7,88.0L791.9,87.1L793.1,86.3L794.4,85.5L795.6,84.6L796.9,83.9L798.1,83.1L799.4,82.4L800.7,81.6L802.0,80.9L803.4,80.3L804.7,79.6L806.1,79.0L807.4,78.4L808.8,77.8L810.2,77.2L811.6,76.7L812.9,76.2L814.4,75.7L815.8,75.2L817.2,74.7L818.6,74.3L820.1,73.9L821.5,73.5L822.9,73.1L824.4,72.8L825.9,72.4L827.3,72.1L828.8,71.8L830.3,71.6L831.7,71.3L833.2,71.1L834.7,70.9L836.2,70.7L837.6,70.5L839.1,70.3L840.6,70.2L842.1,70.1L843.6,70.0L845.1,69.9L846.6,69.8L848.1,69.7L849.6,69.7L851.1,69.6L852.6,69.6L854.1,69.6L855.6,69.6L857.1,69.7L858.6,69.7L860.1,69.7L861.6,69.8L863.2,69.9L864.7,69.9L866.2,70.0L867.7,70.1L869.2,70.2L870.7,70.4L872.2,70.5L873.7,70.6L875.3,70.8L876.8,70.9L878.3,71.1L879.8,71.3L881.3,71.5L882.8,71.6L884.3,71.8L885.8,72.0L887.3,72.2L888.8,72.4L890.3,72.6L891.8,72.9L893.3,73.1L894.8,73.3L896.3,73.5L897.8,73.7L899.3,74.0L900.8,74.2L902.3,74.4L903.8,74.7L905.3,74.9L906.7,75.1L908.2,75.4L909.7,75.6L911.2,75.8L912.7,76.0L914.2,76.3L915.6,76.5L917.1,76.7L918.6,76.9L920.1,77.1L921.6,77.3L923.0,77.5L924.5,77.7L926.0,77.9L927.5,78.1L929.0,78.3L930.5,78.4L931.9,78.6L933.4,78.7L934.9,78.9L936.4,79.0L937.9,79.1L939.4,79.3L940.9,79.4L942.4,79.5L943.9,79.6L945.4,79.7L946.9,79.8L948.3,79.9L949.8,80.0L951.3,80.1L952.8,80.2L954.3,80.3L955.8,80.3L957.3,80.4L958.8,80.5L960.3,80.5L961.8,80.6L963.3,80.6L964.8,80.7L966.3,80.7L967.8,80.7L969.3,80.8L970.8,80.8L972.3,80.8L973.8,80.8L975.3,80.9L976.8,80.9L978.3,80.9L979.9,80.9L981.4,80.9L982.9,80.9L984.4,80.9L985.9,80.9L987.4,80.9L988.9,80.9L990.4,80.9L991.9,80.9L993.4,80.9L994.9,80.8L996.4,80.8L997.9,80.8L999.4,80.8L1000.9,80.8L1002.4,80.7L1003.9,80.7L1005.4,80.7L1006.9,80.7L1008.4,80.6L1009.9,80.6L1011.4,80.6L1012.9,80.6L1014.4,80.5L1015.9,80.5L1017.4,80.5L1019.0,80.4L1020.5,80.4L1022.0,80.4L1023.5,80.4L1025.0,80.3L1026.5,80.3L1028.0,80.3L1029.5,80.3L1031.0,80.2L1032.5,80.2L1034.0,80.2L1035.5,80.2L1037.0,80.2L1038.5,80.2L1040.0,80.1L1041.5,80.1L1043.0,80.1L1044.5,80.1L1046.0,80.1L1047.5,80.1L1049.0,80.1L1050.5,80.1L1052.1,80.1L1053.6,80.1L1055.1,80.2L1056.6,80.2L1058.1,80.2L1059.6,80.2L1061.1,80.3L1062.6,80.3L1064.1,80.3L1065.6,80.4L1067.1,80.4L1068.6,80.4L1070.1,80.5L1071.6,80.5L1073.1,80.6L1074.6,80.7L1076.1,80.7L1077.6,80.8L1079.1,80.8L1080.6,80.9L1082.1,81.0L1083.6,81.1L1085.1,81.1L1086.6,81.2L1088.1,81.3L1089.6,81.4L1091.1,81.4L1092.6,81.5L1094.1,81.6L1095.6,81.7L1097.1,81.8L1098.7,81.9L1100.2,82.0L1101.7,82.1L1103.2,82.1L1104.7,82.2L1106.2,82.3L1107.7,82.4L1109.2,82.5L1110.7,82.6L1112.2,82.7L1113.7,82.8L1115.2,82.9L1116.7,83.0L1118.2,83.1L1119.7,83.2L1121.2,83.3L1122.7,83.4L1124.2,83.5L1125.7,83.6L1127.2,83.7L1128.7,83.8L1130.2,83.8L1131.7,83.9L1133.2,84.0L1134.7,84.1L1136.2,84.2L1137.7,84.3L1139.2,84.4L1140.7,84.5L1142.2,84.5L1143.7,84.6L1145.2,84.7L1146.7,84.8L1148.2,84.8L1149.7,84.9L1151.2,85.0L1152.7,85.1L1154.2,85.1L1155.7,85.2L1157.2,85.2L1158.7,85.3L1160.2,85.4L1161.7,85.4L1163.2,85.5L1164.7,85.5L1166.2,85.5L1167.7,85.6L1169.2,85.6L1170.7,85.6L1172.2,85.7L1173.7,85.7L1175.2,85.7L1176.7,85.7L1178.2,85.7L1179.7,85.8L1181.2,85.8L1182.7,85.8L1184.2,85.7L1185.7,85.7L1187.2,85.7L1188.7,85.7L1190.2,85.7L1191.7,85.7L1193.2,85.6L1194.7,85.6L1196.2,85.6L1197.7,85.5L1199.2,85.5L1200.7,85.4L1202.2,85.4L1203.7,85.3L1205.2,85.3L1206.7,85.2L1208.2,85.2L1209.7,85.1L1211.2,85.0L1212.7,85.0L1214.2,84.9L1215.7,84.8L1217.2,84.7L1218.7,84.7L1220.2,84.6L1221.7,84.5L1223.2,84.4L1224.7,84.3L1226.2,84.2L1227.8,84.1L1229.3,84.0L1230.8,84.0L1232.3,83.9L1233.8,83.8L1235.3,83.7L1236.8,83.6L1238.3,83.4L1239.8,83.3L1241.3,83.2L1242.8,83.1L1244.3,83.0L1245.8,82.9L1247.3,82.8L1248.8,82.7L1250.3,82.6L1251.8,82.5L1253.3,82.3L1254.8,82.2L1256.3,82.1L1257.8,82.0L1259.3,81.9L1260.8,81.8L1262.3,81.6L1263.8,81.5L1265.3,81.4L1266.8,81.3L1268.3,81.2L1269.8,81.0L1271.3,80.9L1272.8,80.8L1274.3,80.7L1275.8,80.6L1277.3,80.5L1278.8,80.3L1280.3,80.2L1281.8,80.1L1283.3,80.0L1284.8,79.9L1286.3,79.8L1287.8,79.7L1289.3,79.6L1290.8,79.4L1292.3,79.3L1293.8,79.2L1295.3,79.1L1296.8,79.0L1298.3,78.9L1299.8,78.8L1301.3,78.7L1302.8,78.6L1304.3,78.5L1305.8,78.4L1307.3,78.3L1308.8,78.3L1310.3,78.2L1311.8,78.1L1313.3,78.0L1314.8,77.9L1316.3,77.8L1317.8,77.7L1319.3,77.7L1320.8,77.6L1322.3,77.5L1323.8,77.4L1325.3,77.4L1326.8,77.3L1328.3,77.2L1329.8,77.2L1331.3,77.1L1332.8,77.0L1334.3,77.0L1335.8,76.9L1337.3,76.8L1338.8,76.8L1340.3,76.7L1341.8,76.7L1343.3,76.6L1344.8,76.5L1346.3,76.5L1347.8,76.4L1349.3,76.4L1350.8,76.3L1352.3,76.3L1353.8,76.2L1355.3,76.2L1356.8,76.1L1358.3,76.1L1359.8,76.0L1361.3,76.0L1362.8,75.9L1364.4,75.9L1365.9,75.8L1367.4,75.8L1368.9,75.8L1370.4,75.7L1371.9,75.7L1373.4,75.6L1374.9,75.6L1376.4,75.5L1377.9,75.5L1379.4,75.5L1380.9,75.4L1382.4,75.4L1383.9,75.3L1385.4,75.3L1386.9,75.3L1388.4,75.2L1389.9,75.2L1391.4,75.1L1392.9,75.1L1394.4,75.1L1395.9,75.0L1397.4,75.0L1398.9,74.9L1400.4,74.9L1401.9,74.9L1403.4,74.8L1404.9,74.8L1406.4,74.8L1407.9,74.7L1409.4,74.7L1410.9,74.6L1412.4,74.6L1413.9,74.5L1415.4,74.5L1416.9,74.5L1418.5,74.4L1420.0,74.4L1421.5,74.3L1423.0,74.3L1424.5,74.2L1426.0,74.2L1427.5,74.1L1429.0,74.1L1430.5,74.1L1432.0,74.0L1433.5,74.0L1435.0,73.9L1436.5,73.9L1438.0,73.8" stroke="#ff0080" stroke-width="4.2"/>
<path d="M166.5,24.7L168.0,24.8L169.5,24.9L171.0,24.9L172.5,25.0L174.0,25.1L175.5,25.2L177.0,25.3L178.5,25.3L180.0,25.4L181.5,25.5L183.0,25.6L184.5,25.7L186.0,25.7L187.5,25.8L189.0,25.9L190.5,26.0L192.0,26.1L193.5,26.1L195.0,26.2L196.5,26.3L198.0,26.4L199.5,26.5L201.0,26.5L202.5,26.6L204.0,26.7L205.6,26.8L207.1,26.9L208.6,26.9L210.1,27.0L211.6,27.1L213.1,27.2L214.6,27.3L216.1,27.3L217.6,27.4L219.1,27.5L220.6,27.6L222.1,27.7L223.6,27.7L225.1,27.8L226.6,27.9L228.1,28.0L229.6,28.1L231.1,28.1L232.6,28.2L234.1,28.3L235.6,28.4L237.1,28.5L238.6,28.5L240.1,28.6L241.6,28.7L243.1,28.8L244.6,28.9L246.1,28.9L247.6,29.0L249.1,29.1L250.6,29.2L252.1,29.2L253.6,29.3L255.1,29.4L256.6,29.5L258.1,29.6L259.6,29.6L261.1,29.7L262.6,29.8L264.1,29.9L265.6,29.9L267.1,30.0L268.6,30.1L270.1,30.2L271.6,30.3L273.1,30.3L274.6,30.4L276.1,30.5L277.6,30.6L279.1,30.7L280.6,30.7L282.1,30.8L283.6,30.9L285.1,31.0L286.6,31.0L288.1,31.1L289.6,31.2L291.1,31.3L292.6,31.3L294.1,31.4L295.6,31.5L297.1,31.6L298.6,31.7L300.1,31.7L301.6,31.8L303.1,31.9L304.6,32.0L306.1,32.0L307.6,32.1L309.1,32.2L310.6,32.3L312.1,32.4L313.6,32.4L315.1,32.5L316.6,32.6L318.1,32.7L319.6,32.7L321.1,32.8L322.6,32.9L324.1,33.0L325.6,33.0L327.1,33.1L328.6,33.2L330.1,33.3L331.6,33.3L333.1,33.4L334.6,33.5L336.1,33.6L337.6,33.6L339.1,33.7L340.6,33.8L342.1,33.9L343.6,34.0L345.1,34.0L346.6,34.1L348.1,34.2L349.6,34.3L351.1,34.3L352.6,34.4L354.1,34.5L355.6,34.6L357.1,34.6L358.6,34.7L360.1,34.8L361.6,34.9L363.1,34.9L364.6,35.0L366.1,35.1L367.6,35.2L369.1,35.2L370.6,35.3L372.1,35.4L373.6,35.5L375.1,35.5L376.6,35.6L378.1,35.7L379.6,35.8L381.2,35.8L382.7,35.9L384.2,36.0L385.7,36.1L387.2,36.1L388.7,36.2L390.2,36.3L391.7,36.3L393.2,36.4L394.7,36.5L396.2,36.6L397.7,36.6L399.2,36.7L400.7,36.8L402.2,36.9L403.7,36.9L405.2,37.0L406.7,37.1L408.2,37.2L409.7,37.2L411.2,37.3L412.7,37.4L414.2,37.5L415.7,37.5L417.2,37.6L418.7,37.7L420.2,37.8L421.7,37.8L423.2,37.9L424.7,38.0L426.2,38.1L427.7,38.1L429.2,38.2L430.7,38.3L432.2,38.4L433.8,38.5L435.3,38.5L436.8,38.6L438.3,38.7L439.8,38.8L441.3,38.9L442.8,39.0L444.3,39.0L445.8,39.1L447.3,39.2L448.8,39.3L450.3,39.4L451.8,39.5L453.3,39.6L454.8,39.7L456.3,39.8L457.8,39.9L459.3,40.0L460.8,40.0L462.3,40.1L463.8,40.2L465.3,40.3L466.8,40.4L468.3,40.6L469.8,40.7L471.3,40.8L472.8,40.9L474.3,41.0L475.8,41.1L477.3,41.2L478.8,41.3L480.3,41.4L481.8,41.5L483.3,41.7L484.8,41.8L486.3,41.9L487.8,42.0L489.3,42.2L490.8,42.3L492.3,42.4L493.8,42.5L495.3,42.7L496.8,42.8L498.3,42.9L499.7,43.1L501.2,43.2L502.7,43.4L504.2,43.5L505.7,43.7L507.2,43.8L508.7,44.0L510.2,44.1L511.7,44.3L513.2,44.4L514.7,44.6L516.2,44.8L517.7,44.9L519.2,45.1L520.7,45.3L522.1,45.4L523.6,45.6L525.1,45.8L526.6,46.0L528.1,46.1L529.6,46.3L531.1,46.5L532.6,46.7L534.1,46.9L535.5,47.1L537.0,47.3L538.5,47.5L540.0,47.7L541.5,47.9L543.0,48.1L544.5,48.3L545.9,48.6L547.4,48.8L548.9,49.0L550.4,49.2L551.9,49.5L553.4,49.7L554.8,49.9L556.3,50.2L557.8,50.4L559.3,50.7L560.8,50.9L562.2,51.2L563.7,51.4L565.2,51.7L566.7,51.9L568.2,52.2L569.6,52.5L571.1,52.7L572.6,53.0L574.1,53.3L575.5,53.6L577.0,53.9L578.5,54.2L580.0,54.4L581.4,54.7L582.9,55.0L584.4,55.3L585.8,55.7L587.3,56.0L588.8,56.3L590.3,56.6L591.7,56.9L593.2,57.2L594.7,57.6L596.1,57.9L597.6,58.2L599.1,58.6L600.6,58.9L602.0,59.2L603.5,59.6L605.0,59.9L606.5,60.3L608.0,60.6L609.4,61.0L610.9,61.3L612.4,61.7L613.9,62.0L615.4,62.4L616.9,62.7L618.4,63.1L619.9,63.5L621.4,63.9L622.9,64.2L624.3,64.7L625.8,65.1L627.2,65.5L628.7,66.0L630.1,66.5L631.5,67.0L632.9,67.6L634.3,68.2L635.6,68.8L636.9,69.5L638.2,70.2L639.5,70.9L640.8,71.7L642.0,72.4L643.2,73.3L644.4,74.1L645.6,75.0L646.7,75.9L647.8,76.9L648.9,77.8L649.9,78.8L651.0,79.9L652.0,81.0L652.9,82.1L653.9,83.2L654.8,84.4L655.7,85.5L656.5,86.7L657.4,88.0L658.2,89.2L659.0,90.4L659.8,91.7L660.6,92.9L661.4,94.2L662.2,95.5L662.9,96.8L663.6,98.1L664.4,99.4L665.1,100.7L665.8,102.0L666.5,103.4L667.2,104.7L667.8,106.0L668.5,107.4L669.2,108.8L669.8,110.1L670.4,111.5L671.0,112.9L671.7,114.3L672.3,115.7L672.9,117.0L673.5,118.4L674.0,119.8L674.6,121.3L675.2,122.7L675.7,124.1L676.3,125.5L676.8,126.9L677.4,128.3L677.9,129.8L678.4,131.2L679.0,132.6L679.5,134.0L680.0,135.4L680.5,136.9L681.0,138.3L681.5,139.7L682.0,141.2L682.5,142.6L683.0,144.0L683.4,145.5L683.9,146.9L684.4,148.3L684.9,149.8L685.3,151.2L685.8,152.6L686.2,154.1L686.7,155.5L687.1,157.0L687.5,158.4L688.0,159.8L688.4,161.3L688.8,162.7L689.2,164.2L689.7,165.6L690.1,167.1L690.5,168.5L690.9,170.0L691.3,171.4L691.7,172.9L692.0,174.3L692.4,175.8L692.8,177.2L693.2,178.7L693.5,180.1L693.9,181.6L694.3,183.0L694.6,184.5L695.0,185.9L695.3,187.4L695.7,188.9L696.0,190.3L696.4,191.8L696.7,193.2L697.0,194.7L697.3,196.2L697.7,197.6L698.0,199.1L698.3,200.6L698.6,202.0L698.9,203.5L699.2,205.0L699.5,206.4L699.8,207.9L700.1,209.4L700.4,210.8L700.7,212.3L700.9,213.8L701.2,215.2L701.5,216.7L701.7,218.2L702.0,219.7L702.3,221.1L702.5,222.6L702.8,224.1L703.0,225.6L703.3,227.0L703.5,228.5L703.8,230.0L704.0,231.5L704.2,233.0L704.5,234.4L704.7,235.9L704.9,237.4L705.1,238.9L705.3,240.4L705.6,241.8L705.8,243.3L706.0,244.8L706.2,246.3L706.4,247.8L706.6,249.3L706.8,250.8L707.0,252.2L707.1,253.7L707.3,255.2L707.5,256.7L707.7,258.2L707.9,259.7L708.0,261.2L708.2,262.7L708.4,264.1L708.6,265.6L708.7,267.1L708.9,268.6L709.0,270.1L709.2,271.6L709.3,273.1L709.5,274.6L709.6,276.1L709.8,277.6L709.9,279.1L710.1,280.6L710.2,282.1L710.3,283.6L710.5,285.1L710.6,286.6L710.7,288.1L710.8,289.6L711.0,291.0L711.1,292.5L711.2,294.0L711.3,295.5L711.4,297.0L711.5,298.5L711.7,300.0L711.8,301.5L711.9,303.0L712.0,304.5L712.1,306.0L712.2,307.5L712.3,309.0L712.4,310.5L712.4,312.1L712.5,313.6L712.6,315.1L712.7,316.6L712.8,318.1L712.9,319.6L713.0,321.1L713.0,322.6L713.1,324.1L713.2,325.6L713.3,327.1L713.3,328.6L713.4,330.1L713.5,331.6L713.5,333.1L713.6,334.6L713.7,336.1L713.7,337.6L713.8,339.1L713.8,340.6L713.9,342.1L714.0,343.6L714.0,345.2L714.1,346.7L714.1,348.2L714.2,349.7L714.2,351.2L714.3,352.7L714.3,354.2L714.4,355.7L714.4,357.2L714.4,358.7L714.5,360.2L714.5,361.7L714.6,363.2L714.6,364.7L714.6,366.3L714.7,367.8L714.7,369.3L714.7,370.8L714.8,372.3L714.8,373.8L714.8,375.3L714.9,376.8L714.9,378.3L714.9,379.8L715.0,381.3L715.0,382.8L715.0,384.4L715.0,385.9L715.1,387.4L715.1,388.9L715.1,390.4L715.1,391.9L715.2,393.4L715.2,394.9L715.2,396.4L715.2,397.9L715.2,399.4L715.3,400.9L715.3,402.4L715.3,403.9L715.3,405.5L715.3,407.0L715.4,408.5L715.4,410.0L715.4,411.5L715.4,413.0L715.4,414.5L715.4,416.0L715.5,417.5L715.5,419.0L715.5,420.5L715.5,422.0L715.5,423.5L715.5,425.0L715.5,426.5L715.6,428.0L715.6,429.5L715.6,431.1L715.6,432.6L715.6,434.1L715.6,435.6L715.6,437.1L715.7,438.6L715.7,440.1L715.7,441.6L715.7,443.1L715.7,444.6L715.7,446.1L715.8,447.6L715.8,449.1L715.8,450.6L715.8,452.1L715.8,453.6L715.9,455.1L715.9,456.6L715.9,458.1L715.9,459.6L715.9,461.1L716.0,462.6L716.0,464.1L716.0,465.6L716.0,467.1L716.0,468.6L716.1,470.1L716.1,471.6L716.1,473.1L716.2,474.6L716.2,476.0L716.2,477.5L716.2,479.0L716.3,480.5L716.3,482.0L716.3,483.5L716.4,485.0L716.4,486.5L716.4,486.5L716.4,485.0L716.5,483.5L716.5,482.0L716.6,480.5L716.6,479.0L716.6,477.4L716.7,475.9L716.7,474.4L716.8,472.9L716.8,471.4L716.8,469.9L716.9,468.4L716.9,466.9L717.0,465.4L717.0,463.9L717.0,462.4L717.1,460.9L717.1,459.4L717.2,457.9L717.2,456.4L717.2,454.9L717.3,453.4L717.3,451.9L717.4,450.4L717.4,448.8L717.4,447.3L717.5,445.8L717.5,444.3L717.6,442.8L717.6,441.3L717.7,439.8L717.7,438.3L717.7,436.8L717.8,435.3L717.8,433.8L717.9,432.3L717.9,430.8L718.0,429.3L718.0,427.8L718.0,426.3L718.1,424.8L718.1,423.3L718.2,421.8L718.2,420.3L718.3,418.8L718.3,417.3L718.4,415.8L718.4,414.3L718.5,412.8L718.5,411.3L718.6,409.8L718.6,408.3L718.7,406.8L718.7,405.3L718.8,403.8L718.8,402.3L718.9,400.8L718.9,399.3L719.0,397.8L719.0,396.3L719.1,394.8L719.1,393.3L719.2,391.8L719.2,390.3L719.3,388.8L719.4,387.3L719.4,385.8L719.5,384.3L719.5,382.8L719.6,381.3L719.7,379.8L719.7,378.3L719.8,376.8L719.8,375.3L719.9,373.9L720.0,372.4L720.0,370.9L720.1,369.4L720.2,367.9L720.2,366.4L720.3,364.9L720.4,363.4L720.5,361.9L720.5,360.4L720.6,358.9L720.7,357.4L720.8,355.9L720.8,354.4L720.9,352.9L721.0,351.4L721.1,349.9L721.1,348.4L721.2,346.9L721.3,345.4L721.4,343.9L721.5,342.4L721.6,340.9L721.7,339.4L721.7,337.9L721.8,336.4L721.9,334.9L722.0,333.4L722.1,331.9L722.2,330.4L722.3,328.9L722.4,327.4L722.5,325.9L722.6,324.4L722.7,322.9L722.8,321.4L722.9,319.9L723.0,318.4L723.1,316.9L723.2,315.4L723.3,313.9L723.4,312.4L723.5,310.9L723.7,309.4L723.8,307.9L723.9,306.4L724.0,304.9L724.1,303.4L724.2,301.9L724.4,300.4L724.5,298.8L724.6,297.3L724.7,295.8L724.9,294.3L725.0,292.8L725.1,291.3L725.3,289.8L725.4,288.3L725.5,286.8L725.7,285.3L725.8,283.8L726.0,282.3L726.1,280.8L726.3,279.3L726.4,277.8L726.6,276.3L726.8,274.8L726.9,273.3L727.1,271.8L727.3,270.3L727.5,268.8L727.7,267.3L727.8,265.8L728.0,264.3L728.2,262.8L728.5,261.3L728.7,259.9L728.9,258.4L729.1,256.9L729.3,255.4L729.6,253.9L729.8,252.4L730.0,250.9L730.3,249.4L730.6,248.0L730.8,246.5L731.1,245.0L731.4,243.5L731.7,242.1L732.0,240.6L732.2,239.1L732.6,237.6L732.9,236.2L733.2,234.7L733.5,233.2L733.9,231.8L734.2,230.3L734.6,228.9L734.9,227.4L735.3,225.9L735.7,224.5L736.0,223.0L736.4,221.6L736.8,220.1L737.3,218.7L737.7,217.3L738.1,215.8L738.6,214.4L739.0,213.0L739.5,211.5L739.9,210.1L740.4,208.7L740.9,207.3L741.4,205.8L741.9,204.4L742.4,203.0L743.0,201.6L743.5,200.2L744.1,198.8L744.6,197.4L745.2,196.1L745.8,194.7L746.4,193.3L747.0,192.0L747.6,190.6L748.3,189.2L748.9,187.9L749.6,186.5L750.2,185.2L750.9,183.9L751.6,182.6L752.3,181.2L753.0,179.9L753.7,178.6L754.5,177.3L755.2,176.0L756.0,174.8L756.8,173.5L757.6,172.2L758.4,171.0L759.2,169.7L760.0,168.5L760.9,167.2L761.7,166.0L762.6,164.8L763.5,163.6L764.4,162.4L765.3,161.2L766.3,160.0L767.2,158.9L768.2,157.7L769.1,156.6L770.1,155.4L771.1,154.3L772.1,153.2L773.1,152.0L774.1,150.9L775.1,149.8L776.2,148.7L777.2,147.6L778.3,146.6L779.3,145.5L780.4,144.4L781.5,143.4L782.6,142.3L783.6,141.3L784.7,140.2L785.8,139.2L787.0,138.2L788.1,137.2L789.2,136.1L790.3,135.1L791.5,134.1L792.6,133.2L793.8,132.2L794.9,131.2L796.1,130.2L797.2,129.3L798.4,128.3L799.6,127.4L800.8,126.5L802.0,125.6L803.2,124.6L804.4,123.7L805.6,122.8L806.8,121.9L808.0,121.1L809.3,120.2L810.5,119.3L811.7,118.5L813.0,117.6L814.2,116.8L815.5,116.0L816.8,115.1L818.0,114.3L819.3,113.5L820.6,112.7L821.9,112.0L823.2,111.2L824.4,110.4L825.7,109.7L827.0,108.9L828.4,108.2L829.7,107.5L831.0,106.7L832.3,106.0L833.6,105.3L835.0,104.7L836.3,104.0L837.7,103.3L839.0,102.7L840.4,102.0L841.7,101.4L843.1,100.8L844.4,100.1L845.8,99.5L847.2,99.0L848.6,98.4L849.9,97.8L851.3,97.2L852.7,96.7L854.1,96.2L855.5,95.6L856.9,95.1L858.3,94.6L859.7,94.1L861.1,93.6L862.6,93.2L864.0,92.7L865.4,92.3L866.8,91.8L868.3,91.4L869.7,91.0L871.1,90.6L872.6,90.2L874.0,89.8L875.4,89.4L876.9,89.0L878.3,88.6L879.8,88.3L881.3,87.9L882.7,87.6L884.2,87.3L885.6,86.9L887.1,86.6L888.6,86.3L890.1,86.0L891.5,85.7L893.0,85.4L894.5,85.2L896.0,84.9L897.4,84.6L898.9,84.4L900.4,84.1L901.9,83.9L903.4,83.6L904.9,83.4L906.4,83.1L907.8,82.9L909.3,82.7L910.8,82.5L912.3,82.2L913.8,82.0L915.3,81.8L916.8,81.6L918.3,81.4L919.8,81.2L921.3,81.0L922.8,80.9L924.3,80.7L925.8,80.5L927.3,80.3L928.8,80.1L930.3,80.0L931.8,79.8L933.3,79.6L934.8,79.4L936.3,79.3L937.8,79.1L939.3,78.9L940.8,78.8L942.3,78.6L943.8,78.4L945.3,78.3L946.8,78.1L948.3,78.0L949.8,77.8L951.3,77.6L952.8,77.5L954.3,77.3L955.8,77.2L957.3,77.0L958.8,76.9L960.3,76.7L961.8,76.6L963.3,76.4L964.8,76.3L966.3,76.1L967.8,76.0L969.3,75.9L970.8,75.7L972.3,75.6L973.8,75.4L975.3,75.3L976.8,75.2L978.3,75.0L979.8,74.9L981.3,74.8L982.8,74.6L984.3,74.5L985.8,74.4L987.3,74.3L988.8,74.1L990.2,74.0L991.7,73.9L993.2,73.8L994.7,73.7L996.2,73.5L997.7,73.4L999.2,73.3L1000.7,73.2L1002.2,73.1L1003.7,73.0L1005.2,72.9L1006.7,72.8L1008.2,72.7L1009.7,72.6L1011.2,72.5L1012.7,72.4L1014.2,72.3L1015.7,72.2L1017.2,72.1L1018.7,72.0L1020.2,71.9L1021.6,71.8L1023.1,71.8L1024.6,71.7L1026.1,71.6L1027.6,71.5L1029.1,71.4L1030.6,71.4L1032.1,71.3L1033.6,71.2L1035.1,71.2L1036.6,71.1L1038.1,71.0L1039.6,71.0L1041.1,70.9L1042.6,70.8L1044.1,70.8L1045.6,70.7L1047.1,70.7L1048.6,70.6L1050.1,70.6L1051.6,70.5L1053.1,70.5L1054.6,70.4L1056.1,70.4L1057.6,70.4L1059.1,70.3L1060.6,70.3L1062.1,70.3L1063.6,70.2L1065.1,70.2L1066.6,70.2L1068.1,70.1L1069.6,70.1L1071.1,70.1L1072.6,70.1L1074.1,70.1L1075.6,70.0L1077.1,70.0L1078.6,70.0L1080.1,70.0L1081.6,70.0L1083.1,70.0L1084.6,70.0L1086.1,70.0L1087.6,70.0L1089.1,70.0L1090.6,69.9L1092.1,69.9L1093.6,69.9L1095.1,69.9L1096.6,69.9L1098.2,69.9L1099.7,70.0L1101.2,70.0L1102.7,70.0L1104.2,70.0L1105.7,70.0L1107.2,70.0L1108.7,70.0L1110.2,70.0L1111.7,70.0L1113.2,70.0L1114.7,70.0L1116.2,70.1L1117.7,70.1L1119.2,70.1L1120.7,70.1L1122.2,70.1L1123.7,70.1L1125.2,70.2L1126.7,70.2L1128.3,70.2L1129.8,70.2L1131.3,70.2L1132.8,70.3L1134.3,70.3L1135.8,70.3L1137.3,70.3L1138.8,70.3L1140.3,70.4L1141.8,70.4L1143.3,70.4L1144.8,70.4L1146.3,70.5L1147.8,70.5L1149.3,70.5L1150.8,70.5L1152.4,70.6L1153.9,70.6L1155.4,70.6L1156.9,70.6L1158.4,70.7L1159.9,70.7L1161.4,70.7L1162.9,70.7L1164.4,70.8L1165.9,70.8L1167.4,70.8L1168.9,70.8L1170.4,70.9L1171.9,70.9L1173.4,70.9L1174.9,70.9L1176.5,71.0L1178.0,71.0L1179.5,71.0L1181.0,71.0L1182.5,71.0L1184.0,71.1L1185.5,71.1L1187.0,71.1L1188.5,71.1L1190.0,71.1L1191.5,71.2L1193.0,71.2L1194.5,71.2L1196.0,71.2L1197.5,71.2L1199.0,71.2L1200.5,71.3L1202.0,71.3L1203.6,71.3L1205.1,71.3L1206.6,71.3L1208.1,71.3L1209.6,71.3L1211.1,71.3L1212.6,71.3L1214.1,71.3L1215.6,71.3L1217.1,71.4L1218.6,71.4L1220.1,71.4L1221.6,71.4L1223.1,71.4L1224.6,71.4L1226.1,71.4L1227.6,71.4L1229.1,71.4L1230.6,71.4L1232.1,71.3L1233.6,71.3L1235.1,71.3L1236.6,71.3L1238.1,71.3L1239.6,71.3L1241.2,71.3L1242.7,71.3L1244.2,71.3L1245.7,71.3L1247.2,71.3L1248.7,71.2L1250.2,71.2L1251.7,71.2L1253.2,71.2L1254.7,71.2L1256.2,71.2L1257.7,71.2L1259.2,71.1L1260.7,71.1L1262.2,71.1L1263.7,71.1L1265.2,71.1L1266.7,71.1L1268.2,71.0L1269.7,71.0L1271.2,71.0L1272.7,71.0L1274.2,70.9L1275.7,70.9L1277.2,70.9L1278.7,70.9L1280.2,70.9L1281.7,70.8L1283.2,70.8L1284.7,70.8L1286.2,70.8L1287.7,70.7L1289.2,70.7L1290.7,70.7L1292.2,70.7L1293.7,70.6L1295.2,70.6L1296.7,70.6L1298.2,70.5L1299.7,70.5L1301.2,70.5L1302.7,70.5L1304.2,70.4L1305.7,70.4L1307.2,70.4L1308.7,70.3L1310.2,70.3L1311.7,70.3L1313.2,70.3L1314.7,70.2L1316.2,70.2L1317.7,70.2L1319.2,70.1L1320.7,70.1L1322.2,70.1L1323.8,70.1L1325.3,70.0L1326.8,70.0L1328.3,70.0L1329.8,69.9L1331.3,69.9L1332.8,69.9L1334.3,69.8L1335.8,69.8L1337.3,69.8L1338.8,69.8L1340.3,69.7L1341.8,69.7L1343.3,69.7L1344.8,69.6L1346.3,69.6L1347.8,69.6L1349.3,69.5L1350.8,69.5L1352.3,69.5L1353.8,69.5L1355.3,69.4L1356.8,69.4L1358.3,69.4L1359.8,69.4L1361.3,69.3L1362.8,69.3L1364.3,69.3L1365.8,69.2L1367.3,69.2L1368.8,69.2L1370.3,69.2L1371.8,69.1L1373.3,69.1L1374.8,69.1L1376.3,69.1L1377.8,69.1L1379.3,69.0L1380.8,69.0L1382.3,69.0L1383.8,69.0L1385.3,68.9L1386.8,68.9L1388.3,68.9L1389.8,68.9L1391.3,68.9L1392.9,68.8L1394.4,68.8L1395.9,68.8L1397.4,68.8L1398.9,68.8L1400.4,68.8L1401.9,68.7L1403.4,68.7L1404.9,68.7L1406.4,68.7L1407.9,68.7L1409.4,68.7L1410.9,68.7L1412.4,68.7L1413.9,68.6L1415.4,68.6L1416.9,68.6L1418.4,68.6L1419.9,68.6L1421.4,68.6L1422.9,68.6L1424.4,68.6L1426.0,68.6L1427.5,68.6L1429.0,68.6L1430.5,68.6L1432.0,68.6L1433.5,68.6L1435.0,68.6L1436.5,68.6L1438.0,68.6" stroke="#00ff00" stroke-width="4.2"/>
</g>
<path d="M148.6,17.8H1441.4" stroke="#000" stroke-width="3.0"/>
<path d="M165.1,906.6H1441.4" stroke="#000" stroke-width="3.6"/>
<path d="M166.75,16.3V923.6" stroke="#000" stroke-width="3.0"/>
<path d="M1439.8,16.3V908.4" stroke="#000" stroke-width="3.4"/>
<path d="M148.6,17.5H166.6M158.1,141.8H166.6M158.1,110.5H166.6M158.1,88.3H166.6M158.1,71.0H166.6M158.1,57.0H166.6M158.1,45.1H166.6M158.1,34.7H166.6M158.1,25.6H166.6M148.6,195.4H166.6M158.1,319.7H166.6M158.1,288.4H166.6M158.1,266.1H166.6M158.1,248.9H166.6M158.1,234.8H166.6M158.1,222.9H166.6M158.1,212.6H166.6M158.1,203.5H166.6M148.6,373.2H166.6M158.1,497.5H166.6M158.1,466.2H166.6M158.1,444.0H166.6M158.1,426.8H166.6M158.1,412.7H166.6M158.1,400.8H166.6M158.1,390.5H166.6M158.1,381.4H166.6M148.6,551.1H166.6M158.1,675.4H166.6M158.1,644.1H166.6M158.1,621.9H166.6M158.1,604.6H166.6M158.1,590.5H166.6M158.1,578.6H166.6M158.1,568.3H166.6M158.1,559.2H166.6M148.6,728.9H166.6M158.1,853.3H166.6M158.1,821.9H166.6M158.1,799.7H166.6M158.1,782.5H166.6M158.1,768.4H166.6M158.1,756.5H166.6M158.1,746.2H166.6M158.1,737.1H166.6M148.6,906.8H166.6M166.6,906.8V923.6M325.7,906.8V915.3M484.9,906.8V923.6M644.0,906.8V915.3M803.2,906.8V923.6M962.3,906.8V915.3M1121.4,906.8V923.6M1280.6,906.8V915.3M1439.7,906.8V923.6" stroke="#000" stroke-width="3.4" fill="none" stroke-linecap="butt"/>
<text x="137.6" y="28.5" font-size="38" text-anchor="end">0.01</text>
<text x="137.6" y="206.8" font-size="38" text-anchor="end">0.001</text>
<text x="137.6" y="383.8" font-size="38" text-anchor="end">1E-4</text>
<text x="137.6" y="561.5" font-size="38" text-anchor="end">1E-5</text>
<text x="137.6" y="739.0" font-size="38" text-anchor="end">1E-6</text>
<text x="137.6" y="917.9" font-size="38" text-anchor="end">1E-7</text>
<text x="166.6" y="964.6" font-size="38" text-anchor="middle">-2.0</text>
<text x="484.9" y="964.6" font-size="38" text-anchor="middle">-1.5</text>
<text x="803.2" y="964.6" font-size="38" text-anchor="middle">-1.0</text>
<text x="1121.4" y="964.6" font-size="38" text-anchor="middle">-0.5</text>
<text x="1439.7" y="964.6" font-size="38" text-anchor="middle">0.0</text>
<text x="802.6" y="1036.3" font-size="45.5" text-anchor="middle">Potential applied (V)</text>
<text transform="translate(34.8,467.15) rotate(-90)" x="0" y="0" font-size="46.4" text-anchor="middle">Current A (log i)</text>
<path d="M932.5,358.8H1034.2" stroke="#0000ff" stroke-width="5" stroke-linecap="round"/>
<text x="1046.5" y="375.2" font-size="46">MoO<tspan font-size="32.5" dx="-2.5" dy="11.8">3</tspan></text>
<path d="M932.5,451.6H1034.2" stroke="#ff0080" stroke-width="5" stroke-linecap="round"/>
<text x="1046.5" y="466.7" font-size="46">MWCNT/MoO<tspan font-size="32.5" dx="-2.5" dy="11.8">3</tspan></text>
<path d="M930.9,546.8H1032.3" stroke="#00ff00" stroke-width="5" stroke-linecap="round"/>
<text x="1046.5" y="561.7" font-size="46">rGO/MoO<tspan font-size="32.5" dx="-2.5" dy="11.8">3</tspan></text>
</svg></body></html>
